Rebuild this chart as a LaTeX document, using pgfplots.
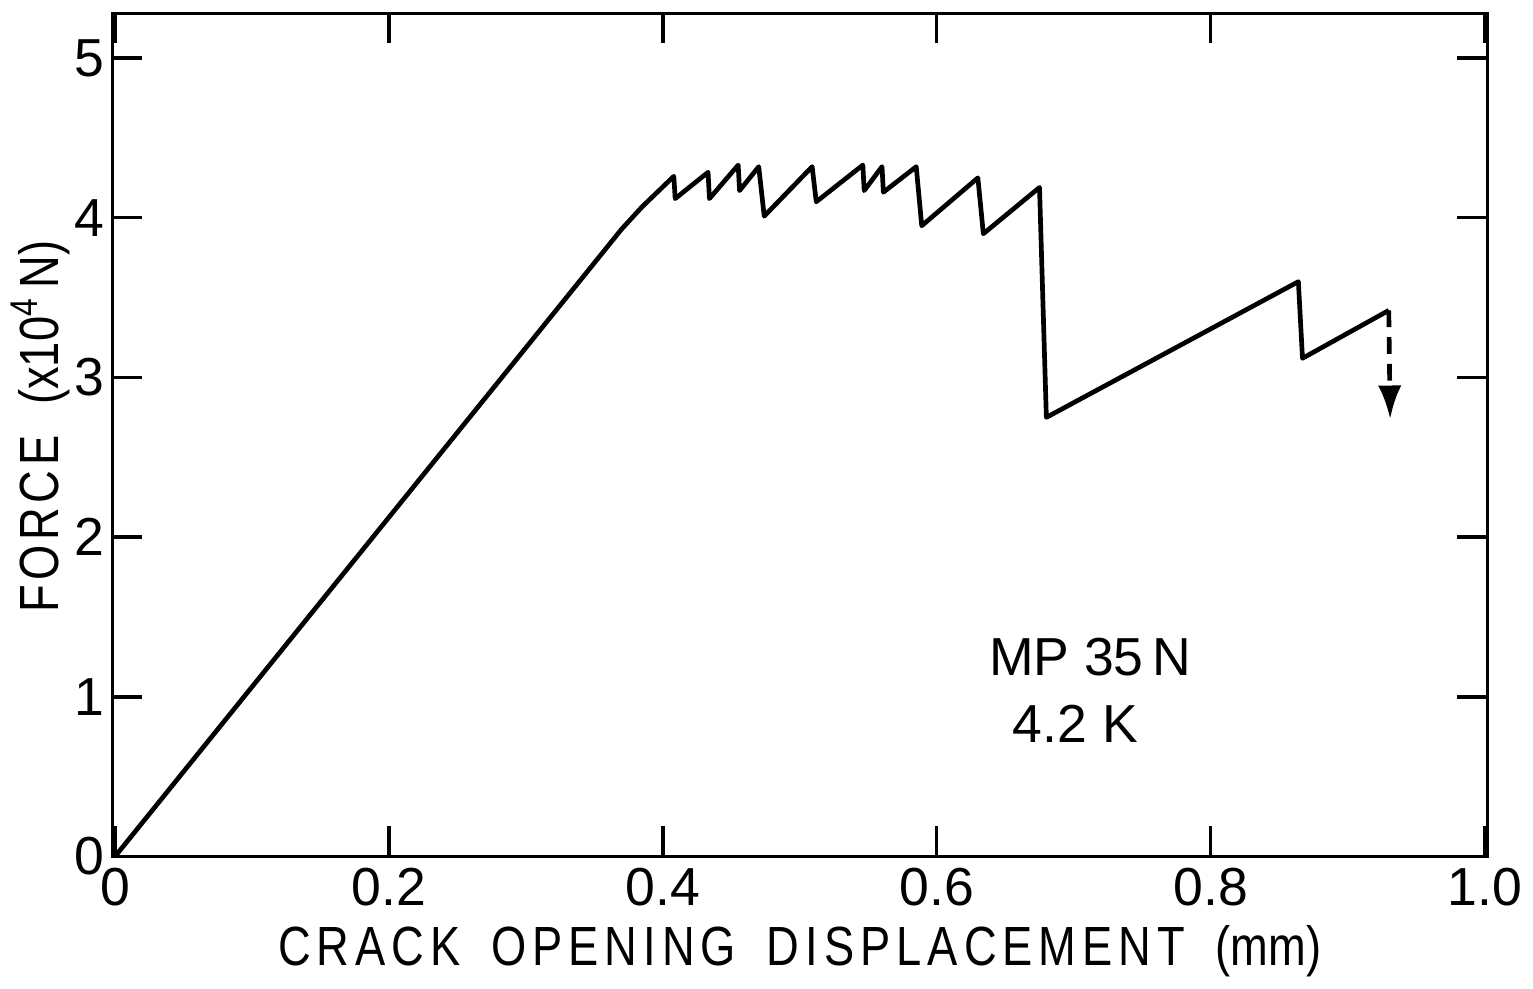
\documentclass[border=0pt]{standalone}
\usepackage{fontspec}
\setmainfont{Liberation Sans}
\newfontfamily\narrowfont[FakeStretch=0.82]{Liberation Sans}
\usepackage{pgfplots}
\pgfplotsset{compat=1.18}
\usetikzlibrary{arrows.meta}
\newcommand{\lsp}{\kern1.8pt}
\newcommand{\ysp}{\kern1.4pt}
\begin{document}
\begin{tikzpicture}
\begin{axis}[
  scale only axis,
  width=411pt, height=252pt,
  xmin=-0.002, xmax=1.002,
  ymin=0, ymax=5.28,
  axis line style={line width=1.0pt},
  tick style={line width=1.0pt, black},
  major tick length=9pt,
  tick align=inside,
  xtick={0,0.2,0.4,0.6,0.8,1.0},
  xticklabels={0,0.2,0.4,0.6,0.8,1.0},
  ytick={0,1,2,3,4,5},
  yticklabels={0,1,2,3,4,5},
  xtick pos=both, ytick pos=both,
  every tick label/.append style={font=\fontsize{16}{18}\selectfont},
  xticklabel style={yshift=0pt},
  yticklabel style={xshift=1pt},
  xlabel={C\lsp R\lsp A\lsp C\lsp K\;\;O\lsp P\lsp E\lsp N\lsp I\lsp N\lsp G\;\;D\lsp I\lsp S\lsp P\lsp L\lsp A\lsp C\lsp E\lsp M\lsp E\lsp N\lsp T\;\;(mm)},
  ylabel={F\ysp O\ysp R\ysp C\ysp E\;\;(x10\textsuperscript{4}\,N)},
  xlabel style={font=\narrowfont\fontsize{16.5}{18}\selectfont, yshift=1pt},
  ylabel style={font=\narrowfont\fontsize{16.5}{18}\selectfont,
    at={([xshift=-16pt]rel axis cs:0,0.51)}, anchor=base, rotate=0},
  clip=false,
]
\addplot[black, line width=1.4pt, line join=round] coordinates {
(0,0) (0.370,3.93) (0.385,4.07) (0.408,4.26)
(0.409,4.12) (0.433,4.285)
(0.434,4.12) (0.455,4.33)
(0.456,4.17) (0.470,4.32)
(0.474,4.01) (0.509,4.32)
(0.512,4.10) (0.546,4.33)
(0.547,4.17) (0.560,4.32)
(0.561,4.16) (0.585,4.32)
(0.589,3.95) (0.630,4.25)
(0.634,3.90) (0.675,4.19)
(0.680,2.75) (0.864,3.60)
(0.867,3.12) (0.930,3.42)
};
\addplot[black, line width=1.4pt, dash pattern=on 5pt off 3pt, -{Latex[length=10pt,width=7pt]}] coordinates {
(0.930,3.42) (0.931,2.74)
};
\node[align=center, font=\fontsize{16}{20}\selectfont, anchor=center] at (axis cs:0.712,1.04) {MP 35\,N\\4.2 K\;\;};
\path (rel axis cs:0,1) -- ++(0,4pt);
\end{axis}
\end{tikzpicture}
\end{document}
